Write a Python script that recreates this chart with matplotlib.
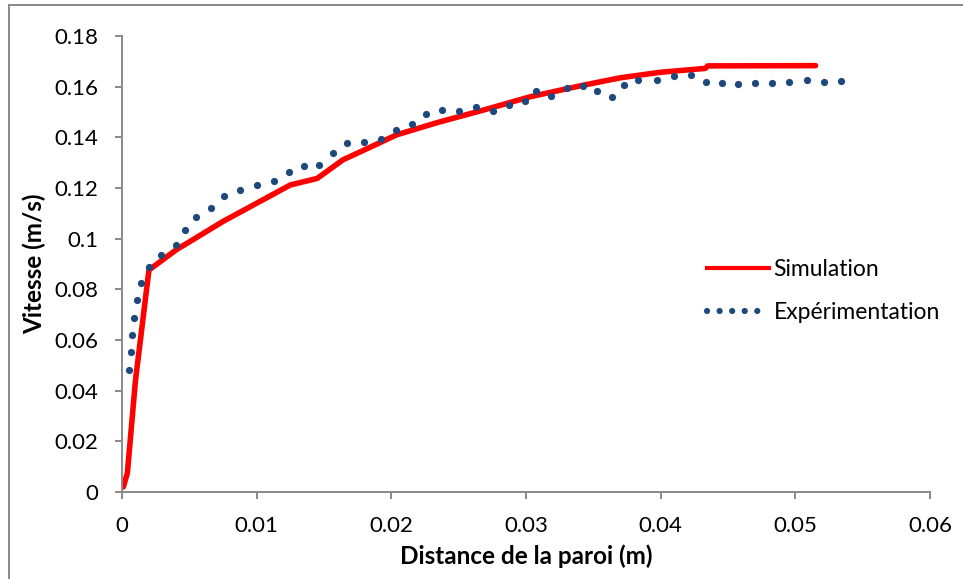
from matplotlib import pyplot as plt
from matplotlib.lines import Line2D

# simulation profile (red line)
sim_x = [0.0001, 0.0004, 0.0010, 0.0020, 0.0040, 0.0075, 0.0125, 0.0145,
         0.0164, 0.0177, 0.0204, 0.0234, 0.0270, 0.0303, 0.0340, 0.0370,
         0.0400, 0.0433, 0.0435, 0.0515]
sim_y = [0.002, 0.0075, 0.044, 0.0876, 0.0955, 0.1068, 0.1212, 0.1238,
         0.1311, 0.1343, 0.1410, 0.1458, 0.1510, 0.1560, 0.1603, 0.1635,
         0.1657, 0.1672, 0.1682, 0.1683]

# experimental points (dots)
exp_x = [0.00054, 0.00065, 0.00076, 0.00089, 0.00109, 0.00141, 0.00198,
         0.00290, 0.00399, 0.00470, 0.00552, 0.00661, 0.00760, 0.00878,
         0.01002, 0.01126, 0.01240, 0.01351, 0.01465, 0.01566, 0.01668,
         0.01797, 0.01923, 0.02034, 0.02153, 0.02255, 0.02378, 0.02504,
         0.02626, 0.02752, 0.02873, 0.02992, 0.03073, 0.03187, 0.03301,
         0.03420, 0.03526, 0.03635, 0.03727, 0.03833, 0.03974, 0.04100,
         0.04226, 0.04336, 0.04452, 0.04571, 0.04697, 0.04826, 0.04954,
         0.05083, 0.05212, 0.05340]
exp_y = [0.0483, 0.0551, 0.0620, 0.0688, 0.0758, 0.0826, 0.0888, 0.0936,
         0.0975, 0.1033, 0.1084, 0.1122, 0.1167, 0.1193, 0.1213, 0.1226,
         0.1262, 0.1288, 0.1291, 0.1337, 0.1376, 0.1383, 0.1392, 0.1429,
         0.1451, 0.1492, 0.1509, 0.1505, 0.1519, 0.1505, 0.1529, 0.1545,
         0.1584, 0.1563, 0.1594, 0.1604, 0.1583, 0.1558, 0.1605, 0.1625,
         0.1626, 0.1642, 0.1647, 0.1617, 0.1613, 0.1609, 0.1614, 0.1613,
         0.1617, 0.1627, 0.1620, 0.1622]

x_ticks = [0, 0.01, 0.02, 0.03, 0.04, 0.05, 0.06]
x_labels = ['0', '0.01', '0.02', '0.03', '0.04', '0.05', '0.06']
y_ticks = [0, 0.02, 0.04, 0.06, 0.08, 0.1, 0.12, 0.14, 0.16, 0.18]
y_labels = ['0', '0.02', '0.04', '0.06', '0.08', '0.1', '0.12', '0.14', '0.16', '0.18']

plt.rcParams['font.family'] = ['Lato', 'DejaVu Sans']
grey = '#898989'
red = '#FF0000'
blue = '#1F497D'

fig = plt.figure(figsize=(9.63, 5.79), dpi=100)
ax = fig.add_axes([122/963, 1 - 492/579, (930 - 122)/963, (492 - 36)/579])

ax.plot(sim_x, sim_y, color=red, lw=4, solid_capstyle='round', zorder=2)
ax.plot(exp_x, exp_y, 'o', color=blue, markersize=5.2, markeredgewidth=0, zorder=3)

ax.set_xlim(0, 0.06)
ax.set_ylim(0, 0.18)
ax.set_xticks(x_ticks)
ax.set_xticklabels(x_labels)
ax.set_yticks(y_ticks)
ax.set_yticklabels(y_labels)

for s in ['top', 'right']:
    ax.spines[s].set_visible(False)
for s in ['left', 'bottom']:
    ax.spines[s].set_color(grey)
    ax.spines[s].set_linewidth(1.4)
ax.tick_params(axis='both', direction='out', length=5, width=1.4, color=grey,
               labelsize=16, labelcolor='black')
ax.tick_params(axis='x', pad=12)
ax.tick_params(axis='y', pad=12)

ax.set_xlabel('Distance de la paroi (m)', fontsize=17.5, fontweight='bold', labelpad=6)
ax.set_ylabel('Vitesse (m/s)', fontsize=17.5, fontweight='bold', labelpad=6)

handles = [Line2D([], [], color=red, lw=3),
           Line2D([], [], color=blue, lw=4.5, linestyle=(0, (0.01, 2.0)),
                  dash_capstyle='round')]
ax.legend(handles, ['Simulation', 'Expérimentation'], loc='center left',
          bbox_to_anchor=(0.724, 0.441), frameon=False, fontsize=16.5,
          handlelength=2.7, handletextpad=0.2, labelspacing=0.95,
          borderpad=0, borderaxespad=0)

# outer chart border
fig.add_artist(Line2D([9/963, 9/963], [0, 1 - 5/579], color=grey, lw=1.4))
fig.add_artist(Line2D([9/963, 1], [1 - 5/579, 1 - 5/579], color=grey, lw=1.4))

fig.savefig('out.png', dpi=100)
